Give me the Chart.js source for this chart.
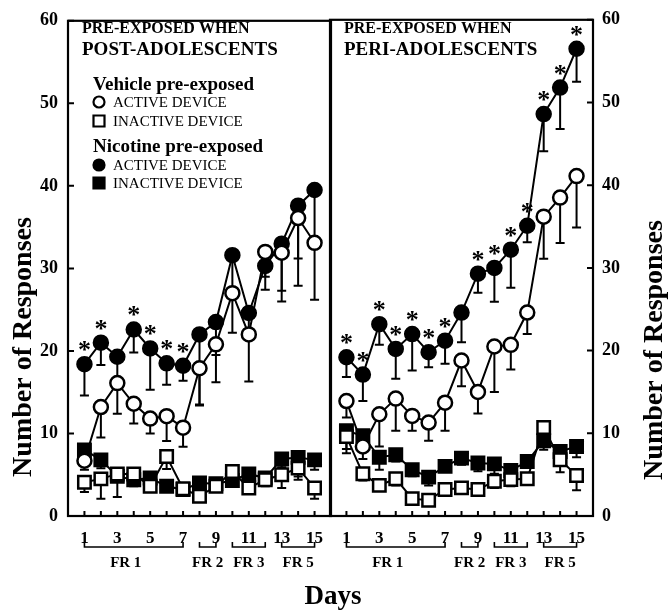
<!DOCTYPE html>
<html><head><meta charset="utf-8">
<script src="https://cdn.jsdelivr.net/npm/chart.js@4.4.1/dist/chart.umd.min.js"></script>
<style>
html,body{margin:0;padding:0;background:#fff;}
#wrap{position:relative;width:669px;height:615px;background:#fff;}
canvas{position:absolute;left:0;top:0;}
</style></head><body>
<div id="wrap"><canvas id="cA" width="669" height="615"></canvas><canvas id="cB" width="669" height="615"></canvas></div>
<script>
// ---------- DATA ----------
const days = [1,2,3,4,5,6,7,8,9,10,11,12,13,14,15];
const xTickLabels = [1,3,5,7,9,11,13,15];
const yTickValues = [0,10,20,30,40,50,60];

// Panel A: pre-exposed when post-adolescents
const postVehActive    = [6.7,13.2,16.1,13.6,11.8,12.1,10.7,17.9,20.8,27.0,22.0,32.0,31.9,36.1,33.1];
const postVehActiveErr = [1.1,3.7,3.7,2.4,1.8,3.0,2.3,4.5,4.6,4.8,5.7,3.0,5.9,8.2,6.9];
const postNicActive    = [18.4,21.0,19.3,22.6,20.3,18.5,18.2,22.0,23.5,31.6,24.6,30.3,33.0,37.6,39.5];
const postNicActiveErr = [3.8,2.7,3.0,2.8,5.0,2.6,1.8,8.5,4.0,4.5,3.0,2.9,5.7,6.4,6.6];
const postVehInactive    = [4.1,4.5,5.1,5.1,3.6,7.2,3.3,2.4,3.6,5.4,3.4,4.4,5.0,5.8,3.4];
const postVehInactiveErr = [1.2,2.4,0.8,0.8,0.5,1.5,0.5,0.5,0.6,0.8,0.6,0.8,1.6,1.0,1.3];
const postNicInactive    = [8.0,6.8,4.8,4.4,4.6,3.6,3.2,4.0,3.9,4.3,5.1,4.6,6.9,7.1,6.8];
const postNicInactiveErr = [1.5,1.0,2.5,0.8,0.8,0.5,0.5,0.8,0.6,0.8,0.8,0.6,1.0,2.7,1.2];
const postAsterisks = [1,2,4,5,6,7];

// Panel B: pre-exposed when peri-adolescents
const periVehActive    = [13.9,8.4,12.3,14.2,12.1,11.3,13.7,18.8,15.0,20.5,20.7,24.6,36.2,38.5,41.1];
const periVehActiveErr = [2.0,1.5,3.9,3.9,1.8,2.2,3.4,3.1,2.6,5.5,3.0,2.6,5.1,5.5,6.2];
const periNicActive    = [19.2,17.1,23.2,20.2,22.0,19.8,21.2,24.6,29.3,30.0,32.2,35.1,48.6,51.8,56.5];
const periNicActiveErr = [2.4,3.2,2.5,3.6,4.4,1.8,2.8,3.6,2.3,4.1,4.6,2.0,4.5,5.0,4.0];
const periVehInactive    = [9.6,5.1,3.7,4.5,2.1,1.9,3.2,3.4,3.2,4.2,4.4,4.5,10.7,6.8,4.9];
const periVehInactiveErr = [1.5,0.8,0.6,0.8,0.4,0.4,0.4,0.5,0.6,0.8,0.8,0.6,2.0,1.5,1.8];
const periNicInactive    = [10.3,9.7,7.1,7.4,5.6,4.7,6.0,7.0,6.4,6.3,5.5,6.6,9.1,7.8,8.4];
const periNicInactiveErr = [2.7,1.5,1.5,0.8,0.8,1.0,0.6,0.8,1.0,1.2,1.3,0.8,1.1,1.6,1.3];
const periAsterisks = [1,2,3,4,5,6,7,9,10,11,12,13,14,15];

// Schedule brackets under the x axis
const frLabels = ['FR 1','FR 2','FR 3','FR 5'];
const frFrom   = [1,8,10,13];
const frTo     = [7,9,12,15];

const panelTitles = [['PRE-EXPOSED WHEN','POST-ADOLESCENTS'],['PRE-EXPOSED WHEN','PERI-ADOLESCENTS']];
const groupNames = ['Vehicle pre-exposed','Nicotine pre-exposed'];
const deviceNames = ['ACTIVE DEVICE','INACTIVE DEVICE'];
const yTitle = 'Number of Responses';
const xTitle = 'Days';

// ---------- RENDERING ----------
const SERIF = "'Liberation Serif','Times New Roman',serif";
const F = (sz,b)=>(b?'bold ':'')+sz+'px '+SERIF;
const pts = arr => arr.map((v,i)=>({x:days[i],y:v}));

function drawMarker(ctx,kind,x,y){
  ctx.save();
  ctx.lineWidth=2.2; ctx.strokeStyle='#000';
  ctx.beginPath();
  if(kind==='oc'||kind==='fc'){ ctx.arc(x,y,5.5,0,Math.PI*2); }
  else { ctx.rect(x-5.5,y-5.5,11,11); }
  ctx.fillStyle=(kind[0]==='o')?'#fff':'#000';
  ctx.fill(); ctx.stroke();
  ctx.restore();
}

function makeDatasets(va,vaE,na,naE,vi,viE,ni,niE){
  const base={borderColor:'#000',borderWidth:2,pointBorderColor:'#000',pointBorderWidth:2.5,showLine:true,tension:0};
  return [
    Object.assign({},base,{label:deviceNames[0],group:0,data:pts(va),err:vaE,pointStyle:'circle',pointRadius:7,pointBackgroundColor:'#fff'}),
    Object.assign({},base,{label:deviceNames[0],group:1,data:pts(na),err:naE,pointStyle:'circle',pointRadius:7,pointBackgroundColor:'#000'}),
    Object.assign({},base,{label:deviceNames[1],group:0,data:pts(vi),err:viE,pointStyle:'rect',pointRadius:8.8,pointBackgroundColor:'#fff'}),
    Object.assign({},base,{label:deviceNames[1],group:1,data:pts(ni),err:niE,pointStyle:'rect',pointRadius:8.8,pointBackgroundColor:'#000'})
  ];
}

const panelPlugin = {
  id:'panelDeco',
  beforeDatasetsDraw(chart){
    const ctx=chart.ctx, xs=chart.scales.x, ys=chart.scales.y;
    ctx.save(); ctx.strokeStyle='#000'; ctx.lineWidth=2;
    chart.data.datasets.forEach(ds=>{
      ds.data.forEach((p,i)=>{
        const e=ds.err[i]; if(!e) return;
        const x=xs.getPixelForValue(p.x), y0=ys.getPixelForValue(p.y), y1=ys.getPixelForValue(p.y-e);
        ctx.beginPath(); ctx.moveTo(x,y0); ctx.lineTo(x,y1); ctx.moveTo(x-4.5,y1); ctx.lineTo(x+4.5,y1); ctx.stroke();
      });
    });
    ctx.restore();
  },
  afterDatasetsDraw(chart,args,opts){
    const ctx=chart.ctx, xs=chart.scales.x, ys=chart.scales.y, a=chart.chartArea;
    ctx.save();
    // frame
    ctx.strokeStyle='#000'; ctx.lineWidth=2.2;
    ctx.strokeRect(a.left,a.top,a.right-a.left,a.bottom-a.top);
    // inside ticks
    ctx.lineWidth=2;
    ctx.beginPath();
    days.forEach(d=>{const x=xs.getPixelForValue(d); ctx.moveTo(x,a.bottom); ctx.lineTo(x,a.bottom-5);});
    yTickValues.forEach(v=>{const y=ys.getPixelForValue(v);
      if(opts.side==='left'){ctx.moveTo(a.left,y); ctx.lineTo(a.left+6,y);} else {ctx.moveTo(a.right,y); ctx.lineTo(a.right-6,y);} });
    ctx.stroke();
    // asterisks
    ctx.fillStyle='#000'; ctx.font=F(26,true); ctx.textAlign='center'; ctx.textBaseline='alphabetic';
    const nic=chart.data.datasets[1].data;
    opts.stars.forEach(d=>{const p=nic[d-1]; ctx.fillText('*',xs.getPixelForValue(p.x),ys.getPixelForValue(p.y)-19+13);});
    // FR brackets
    ctx.lineWidth=1.6;
    frLabels.forEach((lab,i)=>{
      const x0=xs.getPixelForValue(frFrom[i]), x1=xs.getPixelForValue(frTo[i]);
      ctx.beginPath(); ctx.moveTo(x0,542); ctx.lineTo(x0,547); ctx.lineTo(x1,547); ctx.lineTo(x1,542); ctx.stroke();
      ctx.font=F(15,true); ctx.textAlign='center';
      ctx.fillText(lab,(x0+x1)/2 - (frTo[i]-frFrom[i]>4?8:0),567);
    });
    // panel title
    ctx.textAlign='left';
    ctx.font=F(16,true); ctx.fillText(opts.title[0],a.left+14,33);
    ctx.font=F(19,true); ctx.fillText(opts.title[1],a.left+14,55);
    // legend
    if(opts.legend){
      const ds=chart.data.datasets;
      const rows=[[groupNames[0],90,null],[ds[0].label,107,'oc'],[ds[2].label,126,'os'],[groupNames[1],152,null],[ds[1].label,170,'fc'],[ds[3].label,188,'fs']];
      rows.forEach(r=>{
        if(!r[2]){ctx.font=F(19,true); ctx.fillText(r[0],93,r[1]);}
        else {drawMarker(ctx,r[2],99,r[1]-5); ctx.font=F(15,false); ctx.fillText(r[0],113,r[1]);}
      });
    }
    // y-axis title
    ctx.save();
    ctx.translate(opts.side==='left'?24:655,opts.side==='left'?347:350); ctx.rotate(-Math.PI/2);
    ctx.font=F(28,true); ctx.textAlign='center'; ctx.textBaseline='middle';
    ctx.fillText(yTitle,0,0);
    ctx.restore();
    if(opts.side==='left'){
      ctx.font=F(27,true); ctx.textAlign='center'; ctx.textBaseline='alphabetic';
      ctx.fillText(xTitle,333,604);
    }
    ctx.restore();
  }
};

function makeChart(id,side,datasets,stars,title){
  const yScale={type:'linear',min:0,max:60,position:side,
    ticks:{stepSize:10,color:'#000',font:{family:SERIF,size:18,weight:'bold'},padding:side==='left'?10:9},
    grid:{display:false,drawTicks:false},border:{display:false},
    afterFit(s){s.width= side==='left'?68:76;}};
  return new Chart(document.getElementById(id),{
    type:'line',
    data:{datasets},
    options:{
      responsive:false,animation:false,devicePixelRatio:1,
      layout:{padding:side==='left'?{top:12,right:338,left:0,bottom:0}:{top:12,left:330,right:0,bottom:0}},
      scales:{
        x:{type:'linear',min:0,max:16,position:'bottom',
          afterBuildTicks(s){s.ticks=days.map(v=>({value:v}));},
          ticks:{autoSkip:false,maxRotation:0,color:'#000',font:{family:SERIF,size:17,weight:'bold'},padding:12,
            callback:v=>xTickLabels.includes(v)?String(v):''},
          grid:{display:false,drawTicks:false},border:{display:false},
          afterFit(s){s.height=99;}},
        y:yScale
      },
      plugins:{legend:{display:false},tooltip:{enabled:false},
        panelDeco:{side,stars,title,legend:side==='left'}}
    },
    plugins:[panelPlugin]
  });
}

makeChart('cA','left',makeDatasets(postVehActive,postVehActiveErr,postNicActive,postNicActiveErr,postVehInactive,postVehInactiveErr,postNicInactive,postNicInactiveErr),postAsterisks,panelTitles[0]);
makeChart('cB','right',makeDatasets(periVehActive,periVehActiveErr,periNicActive,periNicActiveErr,periVehInactive,periVehInactiveErr,periNicInactive,periNicInactiveErr),periAsterisks,panelTitles[1]);
</script>
</body></html>
